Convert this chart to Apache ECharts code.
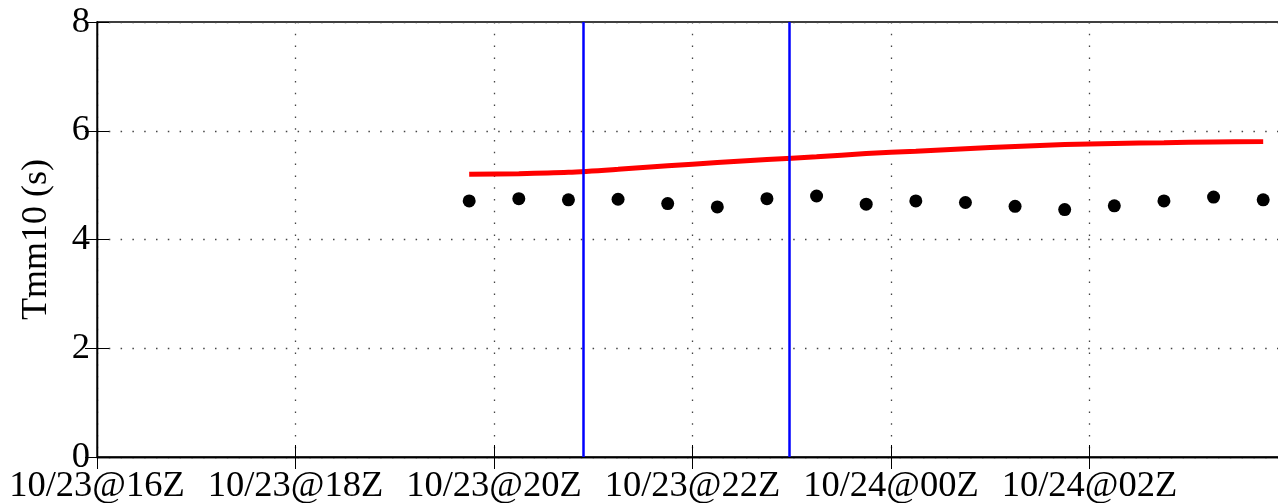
<!DOCTYPE html>
<html>
<head>
<meta charset="utf-8">
<script src="https://cdn.jsdelivr.net/npm/echarts@6/dist/echarts.min.js"></script>
<style>
    html, body { margin: 0; padding: 0; background: #fff; overflow: hidden; }
    #main { width: 1292px; height: 503px; }
</style>
</head>
<body>
<div id="main"></div>
<script>
    // observation times (UTC) and values
    const obsTimes = ['10/23 19:45', '10/23 20:15', '10/23 20:45', '10/23 21:15', '10/23 21:45', '10/23 22:15',
        '10/23 22:45', '10/23 23:15', '10/23 23:45', '10/24 00:15', '10/24 00:45', '10/24 01:15',
        '10/24 01:45', '10/24 02:15', '10/24 02:45', '10/24 03:15', '10/24 03:45'];
    const obsValues = [4.71, 4.75, 4.73, 4.74, 4.66, 4.60, 4.75, 4.80, 4.65, 4.71, 4.68, 4.61,
        4.55, 4.62, 4.71, 4.78, 4.73];
    // model curve
    const modelValues = [5.20, 5.21, 5.235, 5.29, 5.355, 5.415, 5.47, 5.52, 5.58, 5.625, 5.67, 5.71,
        5.745, 5.765, 5.78, 5.795, 5.80];
    // vertical markers
    const markerTimes = ['10/23 20:54', '10/23 22:58'];
    const xTickLabels = ['10/23@16Z', '10/23@18Z', '10/23@20Z', '10/23@22Z', '10/24@00Z', '10/24@02Z'];
    const yTicks = [0, 2, 4, 6, 8];

    // hours since 10/23 16Z
    function toHours(s) {
        const day = parseInt(s.split(' ')[0].split('/')[1], 10);
        const hm = s.split(' ')[1].split(':');
        return (day - 23) * 24 + parseInt(hm[0], 10) + parseInt(hm[1], 10) / 60 - 16;
    }

    const font = 'Liberation Serif';
    const dotted = { color: '#444', width: 1.3, type: [1.5, 10.3] };

    let myChart = echarts.init(document.getElementById('main'));
    myChart.setOption({
        animation: false,
        grid: {
            left: 97, right: 4, top: 22, bottom: 46,
            outerBoundsMode: 'none',
            show: true, borderColor: '#000', borderWidth: 1.3
        },
        xAxis: [
            {
                type: 'value', min: 0, max: 12, interval: 2,
                axisLine: { lineStyle: { color: '#000', width: 1.3 } },
                axisTick: { inside: true, length: 12, lineStyle: { color: '#000' } },
                axisLabel: {
                    color: '#000', fontFamily: font, fontSize: 36.5, margin: 11,
                    formatter: v => xTickLabels[Math.round(v / 2)] || ''
                },
                splitLine: { show: true, lineStyle: dotted }
            },
            {
                type: 'value', min: 0, max: 12, interval: 2, position: 'top',
                axisLine: { lineStyle: { color: '#000', width: 1.3 } },
                axisTick: { inside: true, length: 12, lineStyle: { color: '#000' } },
                axisLabel: { show: false },
                splitLine: { show: false }
            }
        ],
        yAxis: [
            {
                type: 'value', min: yTicks[0], max: yTicks[yTicks.length - 1], interval: 2,
                name: 'Tmm10 (s)', nameLocation: 'middle', nameGap: 42,
                nameTextStyle: { color: '#000', fontFamily: font, fontSize: 36 },
                axisLine: { show: true, lineStyle: { color: '#000', width: 1.3 } },
                axisTick: { show: true, inside: true, length: 12, lineStyle: { color: '#000' } },
                axisLabel: { color: '#000', fontFamily: font, fontSize: 36.5, margin: 7, padding: [6, 0, 0, 0] },
                splitLine: { show: true, lineStyle: dotted }
            },
            {
                type: 'value', min: 0, max: 8, interval: 2, position: 'right',
                axisLine: { show: true, lineStyle: { color: '#000', width: 1.3 } },
                axisTick: { show: true, inside: true, length: 12, lineStyle: { color: '#000' } },
                axisLabel: { show: false },
                splitLine: { show: false }
            }
        ],
        series: [
            {
                name: 'markers',
                type: 'line',
                data: [],
                markLine: {
                    silent: true,
                    symbol: 'none',
                    label: { show: false },
                    lineStyle: { color: '#0000ff', width: 2.5, type: 'solid' },
                    data: markerTimes.map(t => ({ xAxis: toHours(t) }))
                }
            },
            {
                name: 'model',
                type: 'line',
                smooth: 0.3,
                showSymbol: false,
                lineStyle: { color: '#ff0000', width: 5 },
                data: obsTimes.map((t, i) => [toHours(t), modelValues[i]])
            },
            {
                name: 'obs',
                type: 'scatter',
                symbol: 'circle',
                symbolSize: 13,
                itemStyle: { color: '#000', opacity: 1 },
                data: obsTimes.map((t, i) => [toHours(t), obsValues[i]])
            }
        ]
    });
</script>
</body>
</html>
